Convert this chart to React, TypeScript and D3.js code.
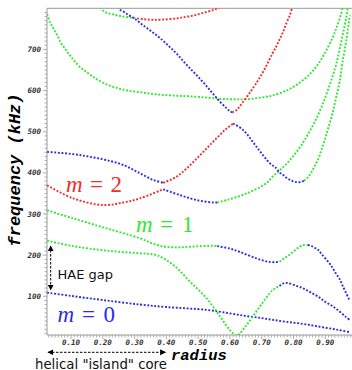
import React from "react";
import * as d3 from "d3";

type P = [number, number];

// x: radius, y: frequency (kHz)
const xTicks = [0.1, 0.2, 0.3, 0.4, 0.5, 0.6, 0.7, 0.8, 0.9];
const yTicks = [100, 200, 300, 400, 500, 600, 700];

// m=0 lowest branch (blue)
const m0Blue: P[] = [[0.025,109],[0.1,101],[0.2,91],[0.317,80],[0.4,74],[0.527,67],[0.6,58.5],[0.652,52],[0.7,47],[0.733,43],[0.778,38],[0.83,33],[0.883,26],[0.936,19],[0.977,13]];

// lower m=1 branch
const lowGreen: P[] = [[0.025,235],[0.107,222],[0.212,211],[0.317,204.5],[0.369,200],[0.422,176],[0.474,136],[0.527,95],[0.569,51],[0.6,18],[0.621,5],[0.652,30],[0.694,75],[0.733,114],[0.756,125]];
const lowBlue: P[] = [[0.756,125],[0.767,131],[0.78,132.5],[0.811,125],[0.833,118.5],[0.855,109],[0.878,99],[0.899,87],[0.922,76.5],[0.945,63],[0.966,49],[0.977,42.5]];

// upper m=1 branch
const upGreenA: P[] = [[0.025,309],[0.107,289.5],[0.212,265],[0.317,241],[0.369,225],[0.422,219],[0.474,220.5],[0.547,223],[0.56,222]];
const upBlueA: P[] = [[0.56,222],[0.6,216],[0.631,208],[0.684,192],[0.72,184],[0.745,183],[0.756,184]];
const upGreenB: P[] = [[0.756,184],[0.767,190],[0.778,196],[0.789,202],[0.8,209],[0.811,216],[0.822,222],[0.833,224.6],[0.845,224.6]];
const upBlueB: P[] = [[0.845,224.6],[0.855,223],[0.866,218],[0.878,212.5],[0.888,203],[0.91,183],[0.922,170.5],[0.933,156],[0.945,142],[0.955,125],[0.977,89]];

// m=2 lower branch
const m2Red: P[] = [[0.025,370],[0.107,338],[0.2,322],[0.265,328],[0.317,338],[0.39,360]];
const m2Blue: P[] = [[0.39,360],[0.443,346],[0.495,334],[0.547,328],[0.56,328]];
const m2Green: P[] = [[0.56,328],[0.59,334],[0.652,350],[0.715,375],[0.733,390],[0.756,406],[0.778,422],[0.8,441.6],[0.822,464],[0.844,492],[0.866,522.7],[0.888,560],[0.91,605],[0.933,661],[0.954,733],[0.966,778],[0.972,805]];

// branch starting near 450 kHz
const b450Blue: P[] = [[0.025,451],[0.107,445.6],[0.16,439],[0.212,431],[0.265,419],[0.317,399],[0.359,382.6],[0.39,376]];
const b450Red: P[] = [[0.39,376],[0.432,390.6],[0.464,411],[0.506,443],[0.547,475.6],[0.584,504],[0.61,520]];
const b450Blue2: P[] = [[0.61,520],[0.642,504],[0.684,463],[0.726,423],[0.745,412],[0.756,401],[0.767,395.5],[0.778,388],[0.789,383],[0.8,379],[0.811,377.5],[0.822,377.5],[0.833,381]];
const b450Green: P[] = [[0.833,381],[0.844,388],[0.855,400],[0.866,416],[0.878,434],[0.888,456],[0.899,482],[0.91,511],[0.922,543],[0.933,580],[0.945,621],[0.954,668],[0.966,722],[0.977,783]];

// upper green U branch
const uGreen: P[] = [[0.025,786],[0.034,766],[0.046,749],[0.058,733],[0.067,717],[0.079,704],[0.09,692],[0.102,681],[0.113,670],[0.13,656],[0.146,647],[0.17,633],[0.18,628],[0.212,615],[0.246,606],[0.279,600],[0.323,595.6],[0.367,591],[0.422,588],[0.474,586],[0.527,583],[0.569,580],[0.61,579],[0.652,579],[0.715,585],[0.733,588],[0.778,600],[0.822,620.6],[0.855,643],[0.878,665],[0.899,692],[0.922,727],[0.933,748],[0.945,774],[0.956,805]];

// top branches
const topGreen: P[] = [[0.185,810],[0.2,795],[0.212,789],[0.224,786.5],[0.235,785],[0.246,782.6],[0.257,781],[0.291,777],[0.308,775.5]];
const topRed: P[] = [[0.308,775.5],[0.33,773.5],[0.357,772],[0.388,772.5],[0.434,775.5],[0.456,778.5],[0.48,781.6],[0.502,785.8],[0.524,790.6],[0.546,795.5],[0.557,798.6],[0.57,803]];
const vBlue: P[] = [[0.25,805],[0.254,797],[0.267,791],[0.278,785],[0.291,779],[0.303,773.6],[0.322,761.5],[0.345,748.6],[0.367,735.5],[0.39,721],[0.411,705.6],[0.434,688.6],[0.455,670],[0.477,652],[0.5,633.5],[0.524,613],[0.546,593],[0.569,572.7],[0.59,556.7],[0.6,550],[0.607,547]];
const vRed: P[] = [[0.607,547],[0.621,552.6],[0.631,562],[0.666,598.7],[0.689,625.5],[0.711,655],[0.733,689],[0.745,706],[0.756,724],[0.767,742],[0.777,763],[0.789,784],[0.795,800]];

const RED = "#f22b2b";
const GREEN = "#2ee82e";
const BLUE = "#2b2be8";

const series: { data: P[]; color: string }[] = [
  { data: m0Blue, color: BLUE },
  { data: lowGreen, color: GREEN },
  { data: lowBlue, color: BLUE },
  { data: upGreenA, color: GREEN },
  { data: upBlueA, color: BLUE },
  { data: upGreenB, color: GREEN },
  { data: upBlueB, color: BLUE },
  { data: m2Red, color: RED },
  { data: m2Blue, color: BLUE },
  { data: m2Green, color: GREEN },
  { data: b450Blue, color: BLUE },
  { data: b450Red, color: RED },
  { data: b450Blue2, color: BLUE },
  { data: b450Green, color: GREEN },
  { data: uGreen, color: GREEN },
  { data: topGreen, color: GREEN },
  { data: topRed, color: RED },
  { data: vBlue, color: BLUE },
  { data: vRed, color: RED },
];

const W = 352;
const H = 370;
const left = 47;
const right = 352;
const top = 8.3;
const bottom = 335;

export default function App() {
  const x = d3.scaleLinear().domain([0.0245, 0.984]).range([left, right]);
  const y = d3.scaleLinear().domain([6, 800]).range([bottom, top]);
  const line = d3
    .line<P>()
    .x((d) => x(d[0]))
    .y((d) => y(d[1]))
    .curve(d3.curveCatmullRom.alpha(0.5));

  const xMinor = d3.range(3, 99).map((i) => i / 100).filter((v) => x(v) <= right);
  const yMinor = d3.range(1, 80).map((i) => i * 10);
  const axisColor = "#999";
  const tickFont = "'DejaVu Sans Mono', monospace";

  return (
    <svg
      width={W}
      height={H}
      style={{ position: "absolute", left: 0, top: 0, display: "block", background: "#fff" }}
    >
      <defs>
        <clipPath id="plot">
          <rect x={left} y={top} width={right - left} height={bottom - top} />
        </clipPath>
        <marker id="ah" viewBox="0 0 10 10" refX="9" refY="5" markerWidth="6" markerHeight="6" orient="auto-start-reverse">
          <path d="M0,0 L10,5 L0,10 z" fill="#000" />
        </marker>
      </defs>

      {/* frame */}
      <line x1={left} x2={right} y1={top} y2={top} stroke={axisColor} strokeWidth={1} />
      <line x1={left} x2={left} y1={top} y2={bottom} stroke={axisColor} strokeWidth={1} />
      <line x1={left} x2={right} y1={bottom} y2={bottom} stroke={axisColor} strokeWidth={1} />

      {/* y ticks */}
      {yMinor.map((v) => (
        <line key={"ym" + v} x1={left} x2={left - (v % 100 === 0 ? 4 : 2.5)} y1={y(v)} y2={y(v)} stroke={axisColor} strokeWidth={0.8} />
      ))}
      {yTicks.map((v) => (
        <text key={"yt" + v} x={41} y={y(v) + 2.6} textAnchor="end" fontFamily={tickFont} fontWeight="bold" fontStyle="italic" fontSize={7.5} fill="#333">
          {v}
        </text>
      ))}

      {/* x ticks */}
      {xMinor.map((v) => {
        const major = Math.abs(v * 10 - Math.round(v * 10)) < 1e-6;
        return <line key={"xm" + v} x1={x(v)} x2={x(v)} y1={bottom} y2={bottom + (major ? 4 : 2.5)} stroke={axisColor} strokeWidth={0.8} />;
      })}
      {xTicks.map((v) => (
        <text key={"xt" + v} x={x(v)} y={344.8} textAnchor="middle" fontFamily={tickFont} fontWeight="bold" fontStyle="italic" fontSize={7.5} fill="#333">
          {v.toFixed(2)}
        </text>
      ))}

      {/* curves */}
      <g clipPath="url(#plot)">
        {series.map((s, i) => (
          <path key={i} d={line(s.data) || ""} fill="none" stroke={s.color} strokeWidth={1.9} strokeDasharray="1.9 1.7" />
        ))}
      </g>

      {/* m labels */}
      <text y={191.7} fill={RED} fontFamily="'Liberation Serif', serif" fontSize={23}>
        <tspan x={66} fontStyle="italic">m</tspan>
        <tspan x={90}>=</tspan>
        <tspan x={110.5}>2</tspan>
      </text>
      <text y={231.7} fill={GREEN} fontFamily="'Liberation Serif', serif" fontSize={23}>
        <tspan x={136} fontStyle="italic">m</tspan>
        <tspan x={160}>=</tspan>
        <tspan x={182}>1</tspan>
      </text>
      <text y={321.7} fill={BLUE} fontFamily="'Liberation Serif', serif" fontSize={23}>
        <tspan x={57.5} fontStyle="italic">m</tspan>
        <tspan x={82}>=</tspan>
        <tspan x={103.5}>0</tspan>
      </text>

      {/* HAE gap */}
      <line x1={50.7} x2={50.7} y1={246} y2={290} stroke="#000" strokeWidth={1} strokeDasharray="2.5 1.5" markerStart="url(#ah)" markerEnd="url(#ah)" />
      <text x={57.5} y={278.5} fontFamily="'DejaVu Sans', sans-serif" fontSize={13} fill="#111">HAE gap</text>

      {/* axis titles */}
      <text transform="translate(20,170) rotate(-90)" textAnchor="middle" fontFamily="'Liberation Mono', monospace" fontWeight="bold" fontStyle="italic" fontSize={17} fill="#000">
        frequency (kHz)
      </text>
      <text x={171} y={359.5} fontFamily="'Liberation Mono', monospace" fontWeight="bold" fontStyle="italic" fontSize={15.5} fill="#000">
        radius
      </text>

      {/* core arrow */}
      <line x1={48} x2={165.5} y1={352.3} y2={352.3} stroke="#000" strokeWidth={1} strokeDasharray="2.5 1.5" markerStart="url(#ah)" markerEnd="url(#ah)" />
      <text x={35} y={368.5} fontFamily="'DejaVu Sans', sans-serif" fontSize={13.3} fill="#111">helical "island" core</text>
    </svg>
  );
}
